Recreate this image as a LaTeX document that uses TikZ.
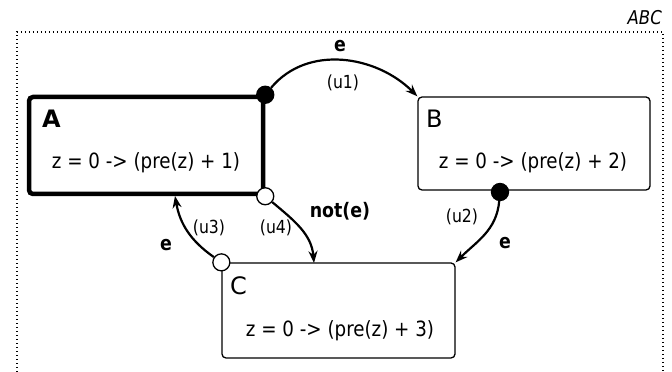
\documentclass[tikz,border=0pt]{standalone}
\usepackage{fontspec}
\setmainfont{DejaVu Sans}[FakeStretch=0.87]
\newfontfamily\plainfont{DejaVu Sans}
\usetikzlibrary{arrows.meta}
\begin{document}
\begin{tikzpicture}[x=1pt,y=1pt,
  statebox/.style={draw, rounded corners=4pt, line width=1.3pt, inner sep=0pt, fill=white},
  activebox/.style={statebox, line width=4.5pt},
  statename/.style={anchor=base west, font=\plainfont\fontsize{24}{28}\selectfont, inner sep=0pt},
  stateeq/.style={anchor=base, font=\fontsize{21}{25}\selectfont, inner sep=0pt},
  trans/.style={line width=2.2pt, -{Stealth[length=12pt,width=9pt]}},
  ulabel/.style={font=\fontsize{18}{21}\selectfont, inner sep=0pt},
  elabel/.style={font=\bfseries\fontsize{20}{23}\selectfont, inner sep=0pt},
  bdot/.style={circle, draw, fill=black, line width=1.3pt, minimum size=17pt, inner sep=0pt},
  wdot/.style={circle, draw, fill=white, line width=1.3pt, minimum size=17pt, inner sep=0pt}]
\useasboundingbox (0,0) rectangle (672,372);
% outer region
\draw[line width=1.3pt, dash pattern=on 1.3pt off 2.7pt] (17,0) -- (17,340) -- (663,340) -- (663,0);
\node[anchor=base east, font=\itshape\fontsize{19}{22}\selectfont, inner sep=0pt] (abc) at (662,347) {ABC};
% states
\node[activebox, minimum width=234pt, minimum height=97pt] (A) at (146,226.5) {};
\node[statebox, minimum width=232pt, minimum height=93pt] (B) at (534,228.5) {};
\node[statebox, minimum width=233pt, minimum height=95pt] (C) at (338.5,61.5) {};
\node[statename, font=\plainfont\bfseries\fontsize{24}{28}\selectfont] (An) at (42,244) {A};
\node[statename] (Bn) at (426,244) {B};
\node[statename] (Cn) at (230,77) {C};
\node[stateeq] (Aeq) at (146,203) {z = 0 -> (pre(z) + 1)};
\node[stateeq] (Beq) at (533,203) {z = 0 -> (pre(z) + 2)};
\node[stateeq] (Ceq) at (340,35) {z = 0 -> (pre(z) + 3)};
% transition origins
\node[bdot] (d1) at (A.north east) {};
\node[bdot] (d2) at (500,180) {};
\node[wdot] (d3) at (C.north west) {};
\node[wdot] (d4) at (A.south east) {};
% transitions
\draw[trans] (d1) to[out=50,in=135] (B.north west);
\draw[trans] (d2) to[out=-95,in=45] (C.north east);
\coordinate (t3) at (175,176);
\draw[trans] (d3) to[out=145,in=-80] (t3);
\coordinate (t4) at (314,109);
\draw[trans] (d4) to[out=-40,in=95] (t4);
% labels
\node[elabel] (e1) at (340,326) {e};
\node[ulabel] (u1) at (343,289) {(u1)};
\node[ulabel] (u2) at (462,155) {(u2)};
\node[elabel] (e2) at (505,129) {e};
\node[ulabel] (u3) at (209,144) {(u3)};
\node[elabel] (e3) at (166,127) {e};
\node[ulabel] (u4) at (276,144) {(u4)};
\node[elabel] (ne) at (340,161) {not(e)};
\end{tikzpicture}
\end{document}
